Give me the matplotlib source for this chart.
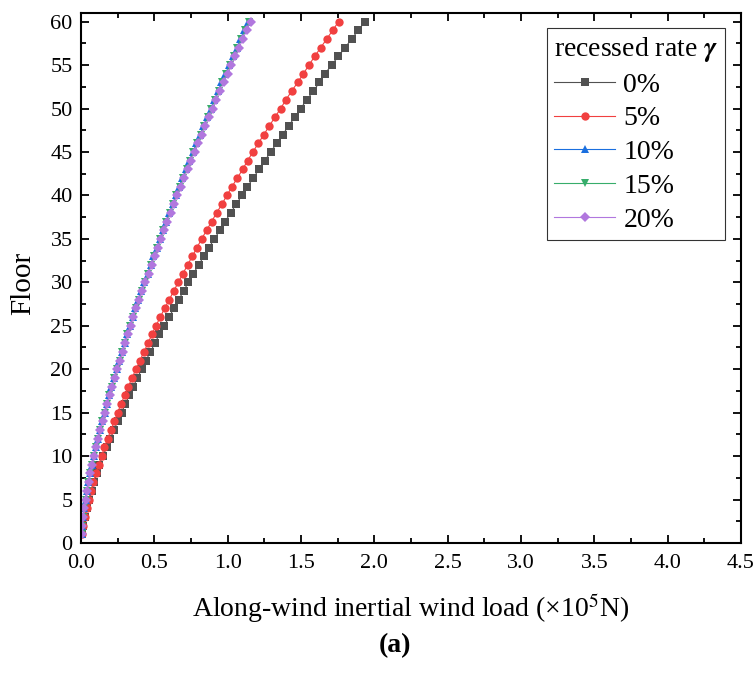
import numpy as np
import matplotlib
matplotlib.use("Agg")
import matplotlib.pyplot as plt

plt.rcParams['font.family'] = ['Liberation Serif', 'DejaVu Serif']
plt.rcParams['mathtext.fontset'] = 'stix'

floors = np.arange(1, 61)

# along-wind inertial load (x10^5 N), floor 1..60
load_0 = [0.007, 0.016, 0.027, 0.041, 0.057, 0.073, 0.089, 0.107, 0.125, 0.148,
          0.175, 0.200, 0.225, 0.250, 0.277, 0.302, 0.330, 0.357, 0.384, 0.414,
          0.443, 0.473, 0.504, 0.534, 0.568, 0.600, 0.634, 0.666, 0.700, 0.732,
          0.766, 0.802, 0.838, 0.873, 0.909, 0.948, 0.984, 1.020, 1.059, 1.097,
          1.134, 1.175, 1.213, 1.254, 1.293, 1.334, 1.375, 1.416, 1.457, 1.498,
          1.539, 1.584, 1.625, 1.663, 1.709, 1.754, 1.800, 1.845, 1.890, 1.936]
load_5 = [0.005, 0.014, 0.025, 0.039, 0.052, 0.068, 0.084, 0.102, 0.120, 0.141,
          0.159, 0.182, 0.204, 0.227, 0.250, 0.273, 0.298, 0.323, 0.348, 0.375,
          0.402, 0.429, 0.457, 0.484, 0.511, 0.541, 0.570, 0.602, 0.632, 0.664,
          0.695, 0.727, 0.759, 0.791, 0.823, 0.857, 0.891, 0.925, 0.961, 0.995,
          1.029, 1.066, 1.102, 1.136, 1.172, 1.209, 1.247, 1.284, 1.322, 1.361,
          1.397, 1.436, 1.477, 1.516, 1.554, 1.593, 1.634, 1.675, 1.716, 1.756]
load_10 = [0.005, 0.009, 0.016, 0.022, 0.031, 0.040, 0.051, 0.062, 0.076, 0.089,
           0.102, 0.116, 0.130, 0.146, 0.161, 0.177, 0.193, 0.208, 0.227, 0.243,
           0.262, 0.280, 0.297, 0.315, 0.334, 0.352, 0.371, 0.392, 0.412, 0.431,
           0.454, 0.475, 0.494, 0.517, 0.537, 0.559, 0.579, 0.602, 0.625, 0.646,
           0.670, 0.691, 0.716, 0.739, 0.763, 0.786, 0.811, 0.834, 0.860, 0.885,
           0.908, 0.934, 0.958, 0.985, 1.010, 1.036, 1.061, 1.087, 1.112, 1.140]
load_15 = [0.005, 0.009, 0.016, 0.023, 0.031, 0.040, 0.051, 0.062, 0.076, 0.090,
           0.103, 0.117, 0.131, 0.146, 0.162, 0.178, 0.194, 0.209, 0.228, 0.245,
           0.263, 0.281, 0.299, 0.317, 0.336, 0.353, 0.373, 0.394, 0.414, 0.434,
           0.456, 0.477, 0.497, 0.520, 0.540, 0.562, 0.582, 0.605, 0.628, 0.649,
           0.673, 0.695, 0.720, 0.742, 0.767, 0.790, 0.815, 0.839, 0.864, 0.889,
           0.913, 0.939, 0.963, 0.990, 1.015, 1.041, 1.066, 1.093, 1.118, 1.145]
load_20 = [0.005, 0.009, 0.016, 0.023, 0.032, 0.041, 0.052, 0.063, 0.077, 0.091,
           0.104, 0.118, 0.132, 0.148, 0.164, 0.180, 0.196, 0.211, 0.230, 0.247,
           0.266, 0.284, 0.302, 0.320, 0.339, 0.357, 0.377, 0.398, 0.418, 0.438,
           0.461, 0.482, 0.502, 0.525, 0.545, 0.568, 0.588, 0.611, 0.634, 0.656,
           0.680, 0.702, 0.727, 0.750, 0.775, 0.798, 0.823, 0.847, 0.873, 0.898,
           0.922, 0.948, 0.973, 1.000, 1.025, 1.052, 1.077, 1.104, 1.129, 1.157]

labels = ['0%', '5%', '10%', '15%', '20%']
series = [load_0, load_5, load_10, load_15, load_20]
colors = ['#515151', '#F14040', '#1A6FDF', '#37AD6B', '#B177DE']
markers = ['s', 'o', '^', 'v', 'D']
msizes = [5.5, 6.0, 6.0, 6.0, 5.5]

fig = plt.figure(figsize=(7.56, 6.73), dpi=100)
ax = fig.add_axes([0.1071, 0.1932, 0.8731, 0.7875])

for vals, lab, c, m, ms in zip(series, labels, colors, markers, msizes):
    ax.plot(vals, floors, color=c, lw=0.8, marker=m, markersize=ms,
            markeredgewidth=0, label=lab)

ax.set_xlim(0, 4.5)
ax.set_ylim(0, 61)
ax.set_xticks(np.arange(0, 4.51, 0.5))
ax.set_xticks(np.arange(0.25, 4.5, 0.5), minor=True)
ax.set_yticks(np.arange(0, 61, 5))
ax.set_yticks(np.arange(2.5, 61, 5), minor=True)
ax.xaxis.set_major_formatter(plt.FormatStrFormatter('%.1f'))

ax.tick_params(which='both', direction='in', top=True, right=True,
               labelsize=16, width=1.3)
ax.tick_params(which='major', length=6)
ax.tick_params(which='minor', length=3.5)
ax.tick_params(axis='x', pad=8)
ax.tick_params(axis='y', pad=6)
for sp in ax.spines.values():
    sp.set_linewidth(1.5)

ax.set_xlabel('Along-wind inertial wind load (×10$^5$N)', fontsize=20)
ax.set_ylabel('Floor', fontsize=21)
ax.xaxis.set_label_coords(0.5, -0.092)
ax.yaxis.set_label_coords(-0.068, 0.49)

leg = ax.legend(title='recessed rate $\\boldsymbol{\\gamma}$',
                loc='upper right', bbox_to_anchor=(0.976, 0.972),
                borderaxespad=0, fontsize=20, title_fontsize=20,
                frameon=True, fancybox=False, edgecolor='black',
                handlelength=2.2, handletextpad=0.3, labelspacing=0.3,
                borderpad=0.25, alignment='left')
leg.get_frame().set_linewidth(0.8)

fig.text(0.523, 0.041, '(a)', fontsize=20, fontweight='bold',
         ha='center', va='center')

fig.savefig('out.png', dpi=100)
